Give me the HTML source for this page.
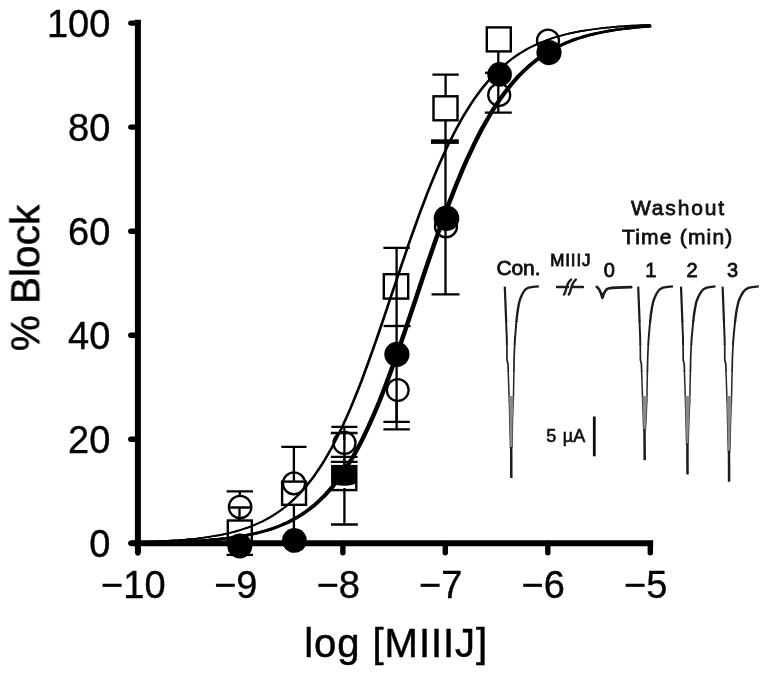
<!DOCTYPE html>
<html lang="en"><head><meta charset="utf-8"><title>Dose-response: % Block vs log [MIIIJ]</title>
<style>
html,body{margin:0;padding:0;background:#fff;}
body{width:769px;height:679px;overflow:hidden;}
svg{display:block;}
text{font-family:"Liberation Sans",sans-serif;fill:#000;}
.ax{stroke:#000;stroke-width:6;fill:none;stroke-linecap:butt;}
.tk{stroke:#000;stroke-width:5.4;fill:none;stroke-linecap:round;}
.eb{stroke:#000;stroke-width:2.3;fill:none;}
.ebk{stroke:#000;stroke-width:4.6;fill:none;}
.oc{stroke:#000;stroke-width:2.3;fill:none;}
.os{stroke:#000;stroke-width:2.4;fill:none;}
.fc{fill:#000;stroke:none;}
.tr{stroke:#1a1a1a;stroke-width:2.1;fill:none;stroke-linejoin:round;stroke-linecap:round;}
.tl{font-size:38px;stroke:#000;stroke-width:0.35;}
.al{font-size:40.5px;stroke:#000;stroke-width:0.5;}
.in{font-size:21px;fill:#111;stroke:#111;stroke-width:0.8;}
</style></head><body>
<svg width="769" height="679" viewBox="0 0 769 679">
<rect x="0" y="0" width="769" height="679" fill="#fff"/>
<defs><filter id="soft" x="-2%" y="-2%" width="104%" height="104%"><feGaussianBlur stdDeviation="0.55"/></filter></defs>
<g filter="url(#soft)">
<g id="plot">
<path d="M137.4,542.1 L141.1,542.0 L144.7,541.8 L148.4,541.7 L152.0,541.6 L155.7,541.4 L159.4,541.2 L163.0,541.1 L166.7,540.9 L170.3,540.6 L174.0,540.4 L177.7,540.2 L181.3,539.9 L185.0,539.6 L188.6,539.2 L192.3,538.9 L196.0,538.5 L199.6,538.0 L203.3,537.6 L206.9,537.1 L210.6,536.5 L214.3,535.9 L217.9,535.3 L221.6,534.6 L225.2,533.8 L228.9,533.0 L232.6,532.1 L236.2,531.1 L239.9,530.0 L243.5,528.8 L247.2,527.6 L250.9,526.2 L254.5,524.7 L258.2,523.1 L261.8,521.4 L265.5,519.5 L269.2,517.5 L272.8,515.3 L276.5,512.9 L280.1,510.4 L283.8,507.6 L287.5,504.6 L291.1,501.4 L294.8,498.0 L298.4,494.3 L302.1,490.3 L305.8,486.1 L309.4,481.5 L313.1,476.7 L316.7,471.5 L320.4,466.0 L324.1,460.1 L327.7,453.9 L331.4,447.4 L335.0,440.4 L338.7,433.1 L342.4,425.4 L346.0,417.4 L349.7,409.0 L353.3,400.2 L357.0,391.1 L360.7,381.7 L364.3,371.9 L368.0,361.9 L371.6,351.7 L375.3,341.2 L379.0,330.6 L382.6,319.9 L386.3,309.0 L389.9,298.1 L393.6,287.2 L397.3,276.3 L400.9,265.4 L404.6,254.7 L408.2,244.1 L411.9,233.6 L415.6,223.4 L419.2,213.3 L422.9,203.6 L426.5,194.0 L430.2,184.8 L433.9,175.8 L437.5,167.2 L441.2,158.8 L444.8,150.8 L448.5,143.1 L452.2,135.8 L455.8,128.8 L459.5,122.1 L463.1,115.7 L466.8,109.7 L470.5,103.9 L474.1,98.5 L477.8,93.4 L481.4,88.6 L485.1,84.1 L488.8,79.8 L492.4,75.8 L496.1,72.1 L499.7,68.6 L503.4,65.3 L507.1,62.3 L510.7,59.4 L514.4,56.7 L518.0,54.3 L521.7,51.9 L525.4,49.8 L529.0,47.8 L532.7,46.0 L536.3,44.2 L540.0,42.6 L543.7,41.2 L547.3,39.8 L551.0,38.5 L554.6,37.3 L558.3,36.2 L562.0,35.2 L565.6,34.3 L569.3,33.4 L572.9,32.6 L576.6,31.9 L580.3,31.2 L583.9,30.6 L587.6,30.0 L591.2,29.5 L594.9,29.0 L598.6,28.5 L602.2,28.1 L605.9,27.7 L609.5,27.4 L613.2,27.0 L616.9,26.7 L620.5,26.4 L624.2,26.2 L627.8,25.9 L631.5,25.7 L635.2,25.5 L638.8,25.3 L642.5,25.1 L646.1,25.0 L649.8,24.8" fill="none" stroke="#000" stroke-width="1.7"/>
<path d="M138.4,542.1 L142.1,542.0 L145.7,541.8 L149.4,541.7 L153.0,541.6 L156.7,541.4 L160.4,541.2 L164.0,541.1 L167.7,540.9 L171.3,540.6 L175.0,540.4 L178.7,540.2 L182.3,539.9 L186.0,539.6 L189.6,539.2 L193.3,538.9 L197.0,538.5 L200.6,538.0 L204.3,537.6 L207.9,537.1 L211.6,536.5 L215.3,535.9 L218.9,535.3 L222.6,534.6 L226.2,533.8 L229.9,533.0 L233.6,532.1 L237.2,531.1 L240.9,530.0 L244.5,528.8 L248.2,527.6 L251.9,526.2 L255.5,524.7 L259.2,523.1 L262.8,521.4 L266.5,519.5 L270.2,517.5 L273.8,515.3 L277.5,512.9 L281.1,510.4 L284.8,507.6 L288.5,504.6 L292.1,501.4 L295.8,498.0 L299.4,494.3 L303.1,490.3 L306.8,486.1 L310.4,481.5 L314.1,476.7 L317.7,471.5 L321.4,466.0 L325.1,460.1 L328.7,453.9 L332.4,447.4 L336.0,440.4 L339.7,433.1 L343.4,425.4 L347.0,417.4 L350.7,409.0 L354.3,400.2 L358.0,391.1 L361.7,381.7 L365.3,371.9 L369.0,361.9 L372.6,351.7 L376.3,341.2 L380.0,330.6 L383.6,319.9 L387.3,309.0 L390.9,298.1 L394.6,287.2 L398.3,276.3 L401.9,265.4 L405.6,254.7 L409.2,244.1 L412.9,233.6 L416.6,223.4 L420.2,213.3 L423.9,203.6 L427.5,194.0 L431.2,184.8 L434.9,175.8 L438.5,167.2 L442.2,158.8 L445.8,150.8 L449.5,143.1 L453.2,135.8 L456.8,128.8 L460.5,122.1 L464.1,115.7 L467.8,109.7 L471.5,103.9 L475.1,98.5 L478.8,93.4 L482.4,88.6 L486.1,84.1 L489.8,79.8 L493.4,75.8 L497.1,72.1 L500.7,68.6 L504.4,65.3 L508.1,62.3 L511.7,59.4 L515.4,56.7 L519.0,54.3 L522.7,51.9 L526.4,49.8 L530.0,47.8 L533.7,46.0 L537.3,44.2 L541.0,42.6 L544.7,41.2 L548.3,39.8 L552.0,38.5 L555.6,37.3 L559.3,36.2 L563.0,35.2 L566.6,34.3 L570.3,33.4 L573.9,32.6 L577.6,31.9 L581.3,31.2 L584.9,30.6 L588.6,30.0 L592.2,29.5 L595.9,29.0 L599.6,28.5 L603.2,28.1 L606.9,27.7 L610.5,27.4 L614.2,27.0 L617.9,26.7 L621.5,26.4 L625.2,26.2 L628.8,25.9 L632.5,25.7 L636.2,25.5 L639.8,25.3 L643.5,25.1 L647.1,25.0 L650.8,24.8" fill="none" stroke="#000" stroke-width="1.7"/>
<path d="M136.8,542.7 L140.5,542.6 L144.1,542.6 L147.8,542.5 L151.4,542.4 L155.1,542.4 L158.8,542.3 L162.4,542.2 L166.1,542.1 L169.7,542.0 L173.4,541.8 L177.1,541.7 L180.7,541.6 L184.4,541.4 L188.0,541.2 L191.7,541.0 L195.4,540.8 L199.0,540.6 L202.7,540.4 L206.3,540.1 L210.0,539.8 L213.7,539.5 L217.3,539.2 L221.0,538.8 L224.6,538.4 L228.3,537.9 L232.0,537.4 L235.6,536.9 L239.3,536.3 L242.9,535.7 L246.6,535.0 L250.3,534.3 L253.9,533.5 L257.6,532.6 L261.2,531.7 L264.9,530.6 L268.6,529.5 L272.2,528.3 L275.9,527.0 L279.5,525.5 L283.2,523.9 L286.9,522.3 L290.5,520.4 L294.2,518.4 L297.8,516.3 L301.5,514.0 L305.2,511.4 L308.8,508.7 L312.5,505.8 L316.1,502.6 L319.8,499.2 L323.5,495.6 L327.1,491.6 L330.8,487.4 L334.4,482.9 L338.1,478.0 L341.8,472.9 L345.4,467.4 L349.1,461.5 L352.7,455.3 L356.4,448.7 L360.1,441.7 L363.7,434.3 L367.4,426.6 L371.0,418.4 L374.7,409.9 L378.4,401.1 L382.0,391.9 L385.7,382.3 L389.3,372.5 L393.0,362.3 L396.7,352.0 L400.3,341.4 L404.0,330.7 L407.6,319.8 L411.3,308.9 L415.0,297.9 L418.6,286.9 L422.3,275.9 L425.9,265.1 L429.6,254.3 L433.3,243.7 L436.9,233.3 L440.6,223.0 L444.2,213.0 L447.9,203.3 L451.6,193.8 L455.2,184.6 L458.9,175.7 L462.5,167.1 L466.2,158.8 L469.9,150.9 L473.5,143.2 L477.2,135.9 L480.8,128.9 L484.5,122.3 L488.2,116.0 L491.8,110.0 L495.5,104.3 L499.1,98.9 L502.8,93.8 L506.5,89.0 L510.1,84.5 L513.8,80.2 L517.4,76.2 L521.1,72.5 L524.8,69.0 L528.4,65.7 L532.1,62.6 L535.7,59.7 L539.4,57.1 L543.1,54.6 L546.7,52.3 L550.4,50.1 L554.0,48.1 L557.7,46.2 L561.4,44.5 L565.0,42.9 L568.7,41.4 L572.3,40.0 L576.0,38.7 L579.7,37.6 L583.3,36.5 L587.0,35.4 L590.6,34.5 L594.3,33.6 L598.0,32.8 L601.6,32.1 L605.3,31.4 L608.9,30.7 L612.6,30.1 L616.3,29.6 L619.9,29.1 L623.6,28.6 L627.2,28.2 L630.9,27.8 L634.6,27.4 L638.2,27.1 L641.9,26.8 L645.5,26.5 L649.2,26.2" fill="none" stroke="#000" stroke-width="2.4"/>
<path d="M137.9,542.7 L141.6,542.6 L145.2,542.6 L148.9,542.5 L152.5,542.4 L156.2,542.4 L159.9,542.3 L163.5,542.2 L167.2,542.1 L170.8,542.0 L174.5,541.8 L178.2,541.7 L181.8,541.6 L185.5,541.4 L189.1,541.2 L192.8,541.0 L196.5,540.8 L200.1,540.6 L203.8,540.4 L207.4,540.1 L211.1,539.8 L214.8,539.5 L218.4,539.2 L222.1,538.8 L225.7,538.4 L229.4,537.9 L233.1,537.4 L236.7,536.9 L240.4,536.3 L244.0,535.7 L247.7,535.0 L251.4,534.3 L255.0,533.5 L258.7,532.6 L262.3,531.7 L266.0,530.6 L269.7,529.5 L273.3,528.3 L277.0,527.0 L280.6,525.5 L284.3,523.9 L288.0,522.3 L291.6,520.4 L295.3,518.4 L298.9,516.3 L302.6,514.0 L306.3,511.4 L309.9,508.7 L313.6,505.8 L317.2,502.6 L320.9,499.2 L324.6,495.6 L328.2,491.6 L331.9,487.4 L335.5,482.9 L339.2,478.0 L342.9,472.9 L346.5,467.4 L350.2,461.5 L353.8,455.3 L357.5,448.7 L361.2,441.7 L364.8,434.3 L368.5,426.6 L372.1,418.4 L375.8,409.9 L379.5,401.1 L383.1,391.9 L386.8,382.3 L390.4,372.5 L394.1,362.3 L397.8,352.0 L401.4,341.4 L405.1,330.7 L408.7,319.8 L412.4,308.9 L416.1,297.9 L419.7,286.9 L423.4,275.9 L427.0,265.1 L430.7,254.3 L434.4,243.7 L438.0,233.3 L441.7,223.0 L445.3,213.0 L449.0,203.3 L452.7,193.8 L456.3,184.6 L460.0,175.7 L463.6,167.1 L467.3,158.8 L471.0,150.9 L474.6,143.2 L478.3,135.9 L481.9,128.9 L485.6,122.3 L489.3,116.0 L492.9,110.0 L496.6,104.3 L500.2,98.9 L503.9,93.8 L507.6,89.0 L511.2,84.5 L514.9,80.2 L518.5,76.2 L522.2,72.5 L525.9,69.0 L529.5,65.7 L533.2,62.6 L536.8,59.7 L540.5,57.1 L544.2,54.6 L547.8,52.3 L551.5,50.1 L555.1,48.1 L558.8,46.2 L562.5,44.5 L566.1,42.9 L569.8,41.4 L573.4,40.0 L577.1,38.7 L580.8,37.6 L584.4,36.5 L588.1,35.4 L591.7,34.5 L595.4,33.6 L599.1,32.8 L602.7,32.1 L606.4,31.4 L610.0,30.7 L613.7,30.1 L617.4,29.6 L621.0,29.1 L624.7,28.6 L628.3,28.2 L632.0,27.8 L635.7,27.4 L639.3,27.1 L643.0,26.8 L646.6,26.5 L650.3,26.2" fill="none" stroke="#000" stroke-width="2.4"/>
<path d="M139.0,542.7 L142.7,542.6 L146.3,542.6 L150.0,542.5 L153.6,542.4 L157.3,542.4 L161.0,542.3 L164.6,542.2 L168.3,542.1 L171.9,542.0 L175.6,541.8 L179.3,541.7 L182.9,541.6 L186.6,541.4 L190.2,541.2 L193.9,541.0 L197.6,540.8 L201.2,540.6 L204.9,540.4 L208.5,540.1 L212.2,539.8 L215.9,539.5 L219.5,539.2 L223.2,538.8 L226.8,538.4 L230.5,537.9 L234.2,537.4 L237.8,536.9 L241.5,536.3 L245.1,535.7 L248.8,535.0 L252.5,534.3 L256.1,533.5 L259.8,532.6 L263.4,531.7 L267.1,530.6 L270.8,529.5 L274.4,528.3 L278.1,527.0 L281.7,525.5 L285.4,523.9 L289.1,522.3 L292.7,520.4 L296.4,518.4 L300.0,516.3 L303.7,514.0 L307.4,511.4 L311.0,508.7 L314.7,505.8 L318.3,502.6 L322.0,499.2 L325.7,495.6 L329.3,491.6 L333.0,487.4 L336.6,482.9 L340.3,478.0 L344.0,472.9 L347.6,467.4 L351.3,461.5 L354.9,455.3 L358.6,448.7 L362.3,441.7 L365.9,434.3 L369.6,426.6 L373.2,418.4 L376.9,409.9 L380.6,401.1 L384.2,391.9 L387.9,382.3 L391.5,372.5 L395.2,362.3 L398.9,352.0 L402.5,341.4 L406.2,330.7 L409.8,319.8 L413.5,308.9 L417.2,297.9 L420.8,286.9 L424.5,275.9 L428.1,265.1 L431.8,254.3 L435.5,243.7 L439.1,233.3 L442.8,223.0 L446.4,213.0 L450.1,203.3 L453.8,193.8 L457.4,184.6 L461.1,175.7 L464.7,167.1 L468.4,158.8 L472.1,150.9 L475.7,143.2 L479.4,135.9 L483.0,128.9 L486.7,122.3 L490.4,116.0 L494.0,110.0 L497.7,104.3 L501.3,98.9 L505.0,93.8 L508.7,89.0 L512.3,84.5 L516.0,80.2 L519.6,76.2 L523.3,72.5 L527.0,69.0 L530.6,65.7 L534.3,62.6 L537.9,59.7 L541.6,57.1 L545.3,54.6 L548.9,52.3 L552.6,50.1 L556.2,48.1 L559.9,46.2 L563.6,44.5 L567.2,42.9 L570.9,41.4 L574.5,40.0 L578.2,38.7 L581.9,37.6 L585.5,36.5 L589.2,35.4 L592.8,34.5 L596.5,33.6 L600.2,32.8 L603.8,32.1 L607.5,31.4 L611.1,30.7 L614.8,30.1 L618.5,29.6 L622.1,29.1 L625.8,28.6 L629.4,28.2 L633.1,27.8 L636.8,27.4 L640.4,27.1 L644.1,26.8 L647.7,26.5 L651.4,26.2" fill="none" stroke="#000" stroke-width="2.4"/>
<path class="ax" d="M137.9,19.8 V553"/>
<path class="ax" d="M131,543.3 H653.2"/>
<line class="tk" x1="130.8" y1="439.3" x2="137.9" y2="439.3"/>
<line class="tk" x1="130.8" y1="335.2" x2="137.9" y2="335.2"/>
<line class="tk" x1="130.8" y1="231.2" x2="137.9" y2="231.2"/>
<line class="tk" x1="130.8" y1="127.1" x2="137.9" y2="127.1"/>
<line class="tk" x1="130.8" y1="23.1" x2="137.9" y2="23.1"/>
<line class="tk" x1="130.8" y1="543.3" x2="137.9" y2="543.3"/>
<line class="tk" x1="137.9" y1="543.3" x2="137.9" y2="553"/>
<line class="tk" x1="240.4" y1="543.3" x2="240.4" y2="552.8"/>
<line class="tk" x1="342.9" y1="543.3" x2="342.9" y2="552.8"/>
<line class="tk" x1="445.3" y1="543.3" x2="445.3" y2="552.8"/>
<line class="tk" x1="547.8" y1="543.3" x2="547.8" y2="552.8"/>
<line class="tk" x1="650.3" y1="543.3" x2="650.3" y2="552.8"/>
<text class="tl" x="110.4" y="557.1" text-anchor="end">0</text>
<text class="tl" x="110.4" y="453.1" text-anchor="end">20</text>
<text class="tl" x="110.4" y="349.0" text-anchor="end">40</text>
<text class="tl" x="110.4" y="245.0" text-anchor="end">60</text>
<text class="tl" x="110.4" y="140.9" text-anchor="end">80</text>
<text class="tl" x="110.4" y="36.9" text-anchor="end">100</text>
<text class="tl" x="133.3" y="597.8" text-anchor="middle">−10</text>
<text class="tl" x="235.8" y="597.8" text-anchor="middle">−9</text>
<text class="tl" x="338.3" y="597.8" text-anchor="middle">−8</text>
<text class="tl" x="440.7" y="597.8" text-anchor="middle">−7</text>
<text class="tl" x="543.2" y="597.8" text-anchor="middle">−6</text>
<text class="tl" x="645.7" y="597.8" text-anchor="middle">−5</text>
<text class="al" x="396.2" y="656.6" text-anchor="middle" style="font-size:40px;letter-spacing:0.95px">log [MIIIJ]</text>
<text class="al" transform="translate(39.3,278) rotate(-90)" text-anchor="middle">% Block</text>
<path class="eb" d="M239.8,491.4 V496.0 M226.6,491.4 H253.0"/>
<circle class="oc" cx="240.1" cy="507.0" r="11.2"/>
<path class="eb" d="M229.3,507.5 H250.5 M239.5,507.5 V520"/>
<rect class="os" x="227.8" y="520.5" width="24.0" height="24.0"/>
<circle class="fc" cx="239.8" cy="546.0" r="12.5"/>
<path class="eb" d="M226.6,554.9 H253.0"/>
<path class="eb" d="M293.9,446.9 V481.6 M281.3,446.9 H306.5"/>
<circle class="oc" cx="294.0" cy="483.4" r="11.0"/>
<rect class="os" x="282.1" y="481.6" width="23.9" height="23.2"/>
<path class="eb" d="M293.9,504.8 V530"/>
<circle class="fc" cx="294.4" cy="540.4" r="12.4"/>
<path class="eb" d="M344.4,426.9 V466.0 M331.4,426.9 H357.4"/>
<path class="eb" d="M344.2,433.0 V440.0 M330.8,433.0 H357.6"/>
<circle class="oc" cx="344.5" cy="443.0" r="11.0"/>
<path class="eb" d="M344.2,456.9 V466.0 M330.8,456.9 H357.6"/>
<path class="eb" d="M344.2,461.8 V466.0 M330.8,461.8 H357.6"/>
<rect class="os" x="332.3" y="466.1" width="24.0" height="24.0"/>
<path class="fc" d="M331.6,465.4 H357.0 V482 Q354.2,485.8 344.2,485.8 Q334.2,485.8 331.6,482 Z"/>
<path class="eb" d="M344.4,488.0 V524.5 M331.0,524.5 H357.8"/>
<path class="eb" d="M396.6,247.8 V421.9 M383.4,247.8 H409.8 M383.4,421.9 H409.8"/>
<rect class="os" x="383.8" y="274.2" width="24.4" height="24.4"/>
<path class="eb" d="M383.6,326 H410.6"/>
<path class="eb" d="M396.6,400.0 V429.4 M383.4,429.4 H409.8"/>
<circle class="fc" cx="396.9" cy="354.3" r="12.6"/>
<circle class="oc" cx="397.7" cy="390.1" r="10.9"/>
<path class="eb" d="M445.6,74.7 V96.0 M432.4,74.7 H458.8"/>
<rect class="os" x="433.5" y="96.3" width="24.0" height="24.0"/>
<path class="eb" d="M445.5,120.0 V294.4 M431.5,294.4 H459.5"/>
<path class="ebk" d="M431.0,141.6 H458.8"/>
<circle class="oc" cx="446.0" cy="226.4" r="11.0"/>
<circle class="fc" cx="446.5" cy="218.3" r="12.8"/>
<rect class="os" x="486.8" y="27.4" width="24.0" height="24.0"/>
<path class="eb" d="M498.3,52.0 V112.6 M484.8,112.6 H511.8"/>
<circle class="oc" cx="499.2" cy="94.9" r="11.0"/>
<circle class="fc" cx="499.6" cy="74.4" r="12.3"/>
<path class="eb" d="M485.0,72.8 H498.6"/>
<circle class="oc" cx="548.0" cy="40.6" r="11.0"/>
<circle class="fc" cx="549.0" cy="52.6" r="12.6"/>
</g>
<g id="inset">
<text class="in" x="631.0" y="215.0" textLength="93.0" lengthAdjust="spacing" style="font-size:21.0px">Washout</text>
<text class="in" x="622.0" y="243.8" textLength="110.3" lengthAdjust="spacing" style="font-size:21.0px">Time (min)</text>
<text class="in" x="496.5" y="275.0" textLength="44.0" lengthAdjust="spacing" style="font-size:21.0px">Con.</text>
<text class="in" x="550.3" y="266.4" textLength="40.2" lengthAdjust="spacing" style="font-size:17.0px">MIIIJ</text>
<text class="in" x="609.2" y="276.8" text-anchor="middle" style="font-size:20px">0</text>
<text class="in" x="650.9" y="276.8" text-anchor="middle" style="font-size:20px">1</text>
<text class="in" x="692.0" y="276.8" text-anchor="middle" style="font-size:20px">2</text>
<text class="in" x="732.6" y="276.8" text-anchor="middle" style="font-size:20px">3</text>
<text class="in" x="546.3" y="441.8" style="font-size:18px;word-spacing:1.5px;stroke-width:0.6">5 µA</text>
<line x1="594.3" y1="416.5" x2="594.3" y2="456.3" stroke="#111" stroke-width="2.8"/>
<path class="tr" style="stroke-width:2.4" d="M557,287 H568 M573.5,287 H583 M564,294.5 C567,291 565.5,284 571,279.6 M568.8,294.5 C571.8,291 570.3,284 575.8,279.6"/>
<path class="tr" style="stroke-width:2.20;stroke:#1a1a1a;stroke-linecap:butt" d="M504.8,286.6 L506.2,322.0"/>
<path class="tr" style="stroke-width:2.35;stroke:#1a1a1a;stroke-linecap:butt" d="M538.8,286.4 L533.0,286.9 L528.7,287.6 L525.7,289.3 L523.8,291.5 L522.1,294.5 L520.6,298.0 L519.3,302.0 L518.1,308.0 L517.0,316.0 L516.4,322.0"/>
<path class="tr" style="stroke-width:1.95;stroke:#1a1a1a;stroke-linecap:butt" d="M506.1,321.0 L506.8,338.0 L506.9,345.0"/>
<path class="tr" style="stroke-width:1.95;stroke:#1a1a1a;stroke-linecap:butt" d="M516.5,321.0 L516.0,326.0 L514.9,340.0 L514.7,345.0"/>
<path class="tr" style="stroke-width:1.70;stroke:#222;stroke-linecap:butt" d="M506.9,344.0 L507.0,360.0 L508.0,364.0 L508.3,372.0"/>
<path class="tr" style="stroke-width:1.70;stroke:#222;stroke-linecap:butt" d="M514.7,344.0 L514.1,357.6 L513.9,372.0"/>
<path class="tr" style="stroke-width:1.50;stroke:#2a2a2a;stroke-linecap:butt" d="M508.2,371.0 L509.2,400.0 L509.2,402.0"/>
<path class="tr" style="stroke-width:1.50;stroke:#2a2a2a;stroke-linecap:butt" d="M513.9,371.0 L513.4,400.0 L513.3,402.0"/>
<path class="tr" style="stroke-width:1.35;stroke:#333;stroke-linecap:butt" d="M509.2,401.0 L510.4,448.0"/>
<path class="tr" style="stroke-width:1.35;stroke:#333;stroke-linecap:butt" d="M513.3,401.0 L512.6,420.0 L512.0,448.0"/>
<path d="M509.1,396.0 L509.2,400.0 L510.4,448.0 L512.0,448.0 L512.6,420.0 L513.4,400.0 L513.5,396.0 Z" fill="#8a8a8a" stroke="none"/>
<path class="tr" style="stroke-width:2.5;stroke-linecap:butt" d="M511.2,447.0 L511.3,478.0"/>
<path class="tr" style="stroke-width:2.20;stroke:#1a1a1a;stroke-linecap:butt" d="M638.2,286.6 L639.6,322.0"/>
<path class="tr" style="stroke-width:2.35;stroke:#1a1a1a;stroke-linecap:butt" d="M673.0,286.4 L667.5,286.9 L663.0,287.6 L659.9,289.3 L657.9,291.5 L656.1,294.5 L654.5,298.0 L653.1,302.0 L651.9,308.0 L650.7,316.0 L650.1,322.0"/>
<path class="tr" style="stroke-width:1.95;stroke:#1a1a1a;stroke-linecap:butt" d="M639.5,321.0 L640.2,338.0 L640.3,345.0"/>
<path class="tr" style="stroke-width:1.95;stroke:#1a1a1a;stroke-linecap:butt" d="M650.2,321.0 L649.7,326.0 L648.5,340.0 L648.3,345.0"/>
<path class="tr" style="stroke-width:1.70;stroke:#222;stroke-linecap:butt" d="M640.3,344.0 L640.4,360.0 L641.4,364.0 L641.7,372.0"/>
<path class="tr" style="stroke-width:1.70;stroke:#222;stroke-linecap:butt" d="M648.3,344.0 L647.7,357.6 L647.4,372.0"/>
<path class="tr" style="stroke-width:1.50;stroke:#2a2a2a;stroke-linecap:butt" d="M641.6,371.0 L642.6,400.0 L642.7,402.0"/>
<path class="tr" style="stroke-width:1.50;stroke:#2a2a2a;stroke-linecap:butt" d="M647.4,371.0 L646.9,400.0 L646.8,402.0"/>
<path class="tr" style="stroke-width:1.35;stroke:#333;stroke-linecap:butt" d="M642.6,401.0 L643.6,430.2"/>
<path class="tr" style="stroke-width:1.35;stroke:#333;stroke-linecap:butt" d="M646.9,401.0 L646.1,420.0 L645.4,430.2"/>
<path d="M642.5,396.0 L642.6,400.0 L643.6,430.2 L645.4,430.2 L646.1,420.0 L646.9,400.0 L647.0,396.0 Z" fill="#8a8a8a" stroke="none"/>
<path class="tr" style="stroke-width:2.5;stroke-linecap:butt" d="M644.5,429.2 L644.7,460.2"/>
<path class="tr" style="stroke-width:2.20;stroke:#1a1a1a;stroke-linecap:butt" d="M681.0,286.6 L682.4,322.0"/>
<path class="tr" style="stroke-width:2.35;stroke:#1a1a1a;stroke-linecap:butt" d="M715.5,286.4 L711.4,286.9 L706.7,287.6 L703.5,289.3 L701.4,291.5 L699.5,294.5 L697.8,298.0 L696.3,302.0 L695.1,308.0 L693.8,316.0 L693.2,322.0"/>
<path class="tr" style="stroke-width:1.95;stroke:#1a1a1a;stroke-linecap:butt" d="M682.3,321.0 L683.0,338.0 L683.1,345.0"/>
<path class="tr" style="stroke-width:1.95;stroke:#1a1a1a;stroke-linecap:butt" d="M693.3,321.0 L692.8,326.0 L691.5,340.0 L691.3,345.0"/>
<path class="tr" style="stroke-width:1.70;stroke:#222;stroke-linecap:butt" d="M683.1,344.0 L683.2,360.0 L684.2,364.0 L684.5,372.0"/>
<path class="tr" style="stroke-width:1.70;stroke:#222;stroke-linecap:butt" d="M691.3,344.0 L690.7,357.6 L690.4,372.0"/>
<path class="tr" style="stroke-width:1.50;stroke:#2a2a2a;stroke-linecap:butt" d="M684.4,371.0 L685.4,400.0 L685.5,402.0"/>
<path class="tr" style="stroke-width:1.50;stroke:#2a2a2a;stroke-linecap:butt" d="M690.4,371.0 L689.8,400.0 L689.7,402.0"/>
<path class="tr" style="stroke-width:1.35;stroke:#333;stroke-linecap:butt" d="M685.4,401.0 L686.5,444.6"/>
<path class="tr" style="stroke-width:1.35;stroke:#333;stroke-linecap:butt" d="M689.8,401.0 L689.0,420.0 L688.2,444.6"/>
<path d="M685.3,396.0 L685.4,400.0 L686.5,444.6 L688.2,444.6 L689.0,420.0 L689.8,400.0 L689.9,396.0 Z" fill="#8a8a8a" stroke="none"/>
<path class="tr" style="stroke-width:2.5;stroke-linecap:butt" d="M687.4,443.6 L687.5,474.6"/>
<path class="tr" style="stroke-width:2.20;stroke:#1a1a1a;stroke-linecap:butt" d="M722.6,286.6 L724.0,322.0"/>
<path class="tr" style="stroke-width:2.35;stroke:#1a1a1a;stroke-linecap:butt" d="M758.8,286.4 L754.2,286.9 L749.2,287.6 L745.8,289.3 L743.6,291.5 L741.7,294.5 L739.9,298.0 L738.4,302.0 L737.0,308.0 L735.7,316.0 L735.1,322.0"/>
<path class="tr" style="stroke-width:1.95;stroke:#1a1a1a;stroke-linecap:butt" d="M723.9,321.0 L724.6,338.0 L724.7,345.0"/>
<path class="tr" style="stroke-width:1.95;stroke:#1a1a1a;stroke-linecap:butt" d="M735.2,321.0 L734.6,326.0 L733.3,340.0 L733.0,345.0"/>
<path class="tr" style="stroke-width:1.70;stroke:#222;stroke-linecap:butt" d="M724.7,344.0 L724.8,360.0 L725.8,364.0 L726.1,372.0"/>
<path class="tr" style="stroke-width:1.70;stroke:#222;stroke-linecap:butt" d="M733.1,344.0 L732.4,357.6 L732.1,372.0"/>
<path class="tr" style="stroke-width:1.50;stroke:#2a2a2a;stroke-linecap:butt" d="M726.0,371.0 L727.0,400.0 L727.0,402.0"/>
<path class="tr" style="stroke-width:1.50;stroke:#2a2a2a;stroke-linecap:butt" d="M732.1,371.0 L731.5,400.0 L731.5,402.0"/>
<path class="tr" style="stroke-width:1.35;stroke:#333;stroke-linecap:butt" d="M727.0,401.0 L728.2,451.8"/>
<path class="tr" style="stroke-width:1.35;stroke:#333;stroke-linecap:butt" d="M731.5,401.0 L730.7,420.0 L729.9,451.8"/>
<path d="M726.9,396.0 L727.0,400.0 L728.2,451.8 L729.9,451.8 L730.7,420.0 L731.5,400.0 L731.6,396.0 Z" fill="#8a8a8a" stroke="none"/>
<path class="tr" style="stroke-width:2.5;stroke-linecap:butt" d="M729.0,450.8 L729.1,481.8"/>
<path class="tr" style="stroke-width:2.7" d="M596.8,286.9 C599.5,288 600.8,292 602.5,297.8 C603.8,292.5 605.5,289.3 608.5,288.5 C613,287.5 620,287.3 631.2,287.2"/>
</g>
</g>
</svg>
</body></html>
